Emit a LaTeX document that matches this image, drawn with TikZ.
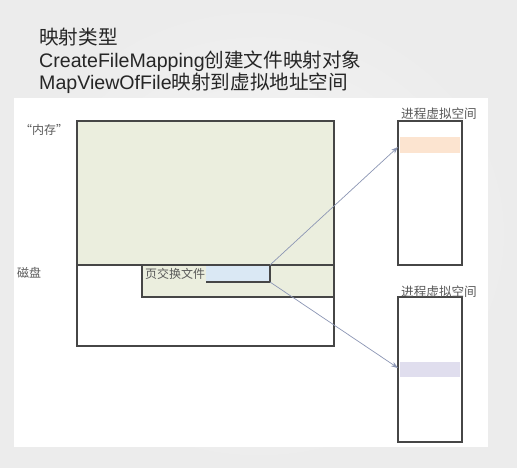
\documentclass[tikz,border=0pt]{standalone}
\usepackage{fontspec}
\setmainfont{Liberation Sans}
\newfontfamily\cjk{Noto Sans CJK SC}
\usetikzlibrary{arrows.meta}
\definecolor{memgreen}{RGB}{235,238,222}
\definecolor{swapblue}{RGB}{218,232,244}
\definecolor{bandorange}{RGB}{252,228,208}
\definecolor{bandpurple}{RGB}{224,222,238}
\definecolor{linegray}{RGB}{70,70,70}
\definecolor{arrowcol}{RGB}{140,150,180}
\definecolor{slidebg}{RGB}{236,236,236}
\tikzset{
  box/.style={draw=linegray, line width=1.1pt, inner sep=0pt, rectangle},
  band/.style={inner sep=0pt, rectangle, draw=none},
  lbl/.style={inner sep=0pt, font=\cjk\fontsize{12}{14}\selectfont, text=black!65},
  title/.style={inner sep=0pt, anchor=base west, font=\fontsize{19.6}{23}\selectfont, text=black!85},
  maparrow/.style={draw=arrowcol, line width=0.7pt, -{Stealth[length=7pt,width=5pt]}},
}
\begin{document}
\begin{tikzpicture}[x=1pt,y=-1pt]
\useasboundingbox (0,0) rectangle (517,467);
% slide background
\shade[inner color=white!50!slidebg, outer color=slidebg] (0,0) rectangle (517,467);
\fill[white] (14,98) rectangle (488,447);
% title
\node[title] (t1) at (39,44.5) {\cjk 映射类型};
\node[title] (t2) at (39,67) {CreateFileMapping{\cjk 创建文件映射对象}};
\node[title] (t3) at (39,89) {MapViewOfFile{\cjk 映射到虚拟地址空间}};
% memory / disk
\node[box, fill=memgreen, minimum width=257pt, minimum height=144pt] (mem) at (205.5,193) {};
\node[box, fill=white, minimum width=257pt, minimum height=81pt] (disk) at (205.5,305.5) {};
\node[box, fill=memgreen, minimum width=192pt, minimum height=32pt] (swap) at (238,281) {};
\fill[swapblue] (206,266) rectangle (269,281.5);
\coordinate (sbNE) at (270,265);
\coordinate (sbSE) at (270,282);
\coordinate (sbSW) at (206,282);
\draw[linegray, line width=1.1pt] (sbSW) -- (sbSE) -- (sbNE);
\draw[linegray, line width=1.1pt] (mem.south west) -- (mem.south east);
\node[lbl, anchor=west] (swaplbl) at (145,274) {页交换文件};
\node[lbl, anchor=west] (memlbl) at (20,130) {“内存”};
\node[lbl, anchor=west] (disklbl) at (17,273) {磁盘};
% process virtual spaces
\node[box, fill=white, minimum width=64pt, minimum height=144pt] (vs1) at (430,193) {};
\node[box, fill=white, minimum width=64pt, minimum height=145pt] (vs2) at (430,369.5) {};
\node[band, fill=bandorange, minimum width=60pt, minimum height=16pt] (b1) at (430,145) {};
\node[band, fill=bandpurple, minimum width=60pt, minimum height=15pt] (b2) at (430,369.5) {};
\node[lbl, anchor=south west, font=\cjk\fontsize{12.6}{14}\selectfont] (vl1) at (401,120) {进程虚拟空间};
\node[lbl, anchor=south west, font=\cjk\fontsize{12.6}{14}\selectfont] (vl2) at (401,298) {进程虚拟空间};
% arrows
\coordinate (e1) at (398,147);
\coordinate (e2) at (398,368);
\draw[maparrow] (sbNE) -- (e1);
\draw[maparrow] (sbSE) -- (e2);
\end{tikzpicture}
\end{document}
